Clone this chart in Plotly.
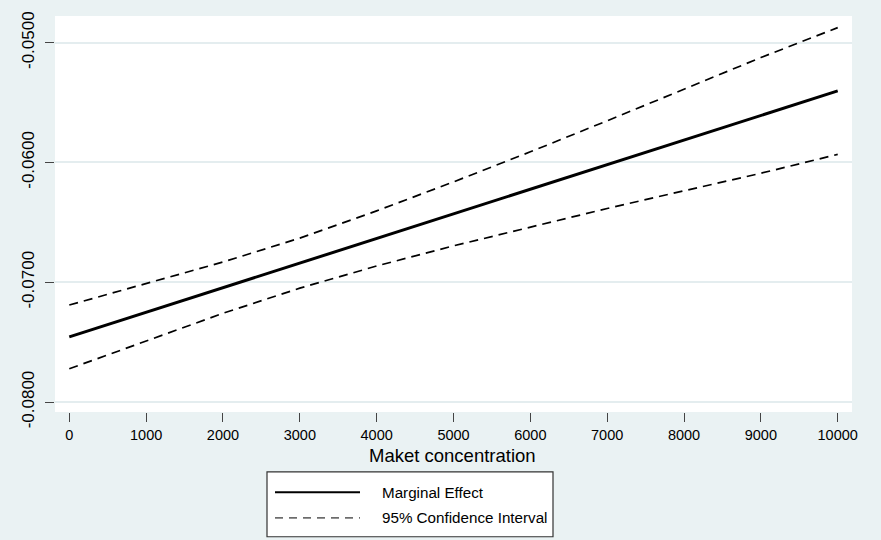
import plotly.graph_objects as go

# Data
concentration = [0, 1000, 2000, 3000, 4000, 5000, 6000, 7000, 8000, 9000, 10000]
marginal_effect = [-0.07456, -0.07251, -0.07045, -0.06840, -0.06634, -0.06429,
                   -0.06224, -0.06018, -0.05813, -0.05607, -0.05402]
ci_upper = [-0.07190, -0.07011, -0.06831, -0.06631, -0.06404, -0.06162,
            -0.05911, -0.05652, -0.05390, -0.05124, -0.04874]
ci_lower = [-0.07722, -0.07491, -0.07259, -0.07049, -0.06864, -0.06696,
            -0.06537, -0.06384, -0.06236, -0.06090, -0.05932]
x_ticks = [0, 1000, 2000, 3000, 4000, 5000, 6000, 7000, 8000, 9000, 10000]
y_ticks = [-0.08, -0.07, -0.06, -0.05]
legend_labels = ["Marginal Effect", "95% Confidence Interval"]
x_title = "Maket concentration"

FONT = "Liberation Sans, Arial, Helvetica, sans-serif"
BG = "#EAF2F3"

fig = go.Figure()
fig.add_trace(go.Scatter(x=concentration, y=ci_upper, mode="lines",
                         line=dict(color="black", width=1.7, dash="9px,6px"),
                         name=legend_labels[1], showlegend=False))
fig.add_trace(go.Scatter(x=concentration, y=ci_lower, mode="lines",
                         line=dict(color="black", width=1.7, dash="9px,6px"),
                         name=legend_labels[1], showlegend=False))
fig.add_trace(go.Scatter(x=concentration, y=marginal_effect, mode="lines",
                         line=dict(color="black", width=3),
                         name=legend_labels[0], showlegend=False))

# plot area in pixels: x 55..852, y 12..412
L, R, T, B = 55, 852, 12, 412
W, H = R - L, B - T


def px(xp):
    return (xp - L) / W


def py(yp):
    return (B - yp) / H


shapes = [
    dict(type="rect", xref="paper", yref="paper",
         x0=px(267), x1=px(553), y0=py(472.5), y1=py(538),
         line=dict(color="#333333", width=1.2), fillcolor="white", layer="above"),
    dict(type="line", xref="paper", yref="paper",
         x0=px(275), x1=px(360), y0=py(493), y1=py(493),
         line=dict(color="black", width=2), layer="above"),
    dict(type="line", xref="paper", yref="paper",
         x0=px(275), x1=px(360), y0=py(519), y1=py(519),
         line=dict(color="black", width=1, dash="8px,6px"), layer="above"),
]

annotations = [
    dict(xref="paper", yref="paper", x=px(380), y=py(493), text=legend_labels[0],
         showarrow=False, xanchor="left", yanchor="middle",
         font=dict(family=FONT, size=15.2, color="black")),
    dict(xref="paper", yref="paper", x=px(380), y=py(519), text=legend_labels[1],
         showarrow=False, xanchor="left", yanchor="middle",
         font=dict(family=FONT, size=15.2, color="black")),
    dict(xref="paper", yref="paper", x=px(452), y=py(456), text=x_title,
         showarrow=False, xanchor="center", yanchor="middle",
         font=dict(family=FONT, size=18.5, color="black")),
]

fig.update_layout(
    width=881, height=540,
    margin=dict(l=L, r=881 - R, t=T, b=540 - B, pad=0),
    paper_bgcolor=BG, plot_bgcolor="white",
    font=dict(family=FONT, color="black"),
    shapes=shapes, annotations=annotations,
    showlegend=False,
)
fig.update_xaxes(
    range=[-186, 10186], tickvals=x_ticks, ticktext=[str(v) for v in x_ticks],
    showgrid=False, zeroline=False, showline=False,
    ticks="outside", ticklen=9, tickwidth=1, tickcolor="#444444",
    tickfont=dict(family=FONT, size=14.5, color="black"),
    ticklabelstandoff=1,
)
fig.update_yaxes(
    range=[-0.08083, -0.04777], tickvals=y_ticks,
    ticktext=["%.4f" % v for v in y_ticks],
    showgrid=True, gridcolor="#E4EDEF", gridwidth=1.5,
    zeroline=False, showline=False,
    ticks="outside", ticklen=9, tickwidth=1, tickcolor="#444444",
    tickangle=-90,
    tickfont=dict(family=FONT, size=17, color="black"),
    ticklabelstandoff=4,
)

fig.write_html("out.html", config={"displayModeBar": False},
               post_script="document.body.style.margin='0';document.body.style.background='%s';" % BG)
